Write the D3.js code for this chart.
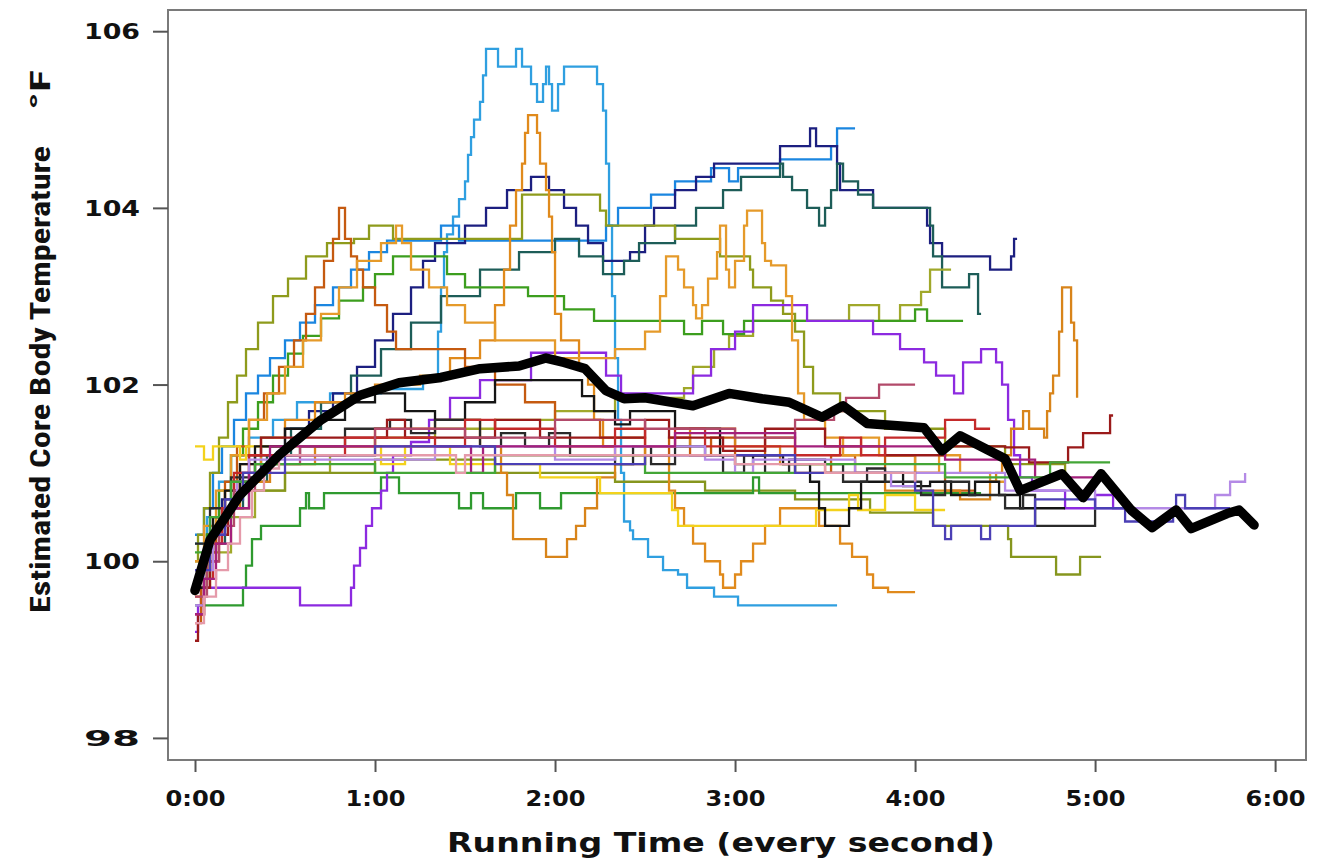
<!DOCTYPE html>
<html><head><meta charset="utf-8">
<script src="https://cdn.jsdelivr.net/npm/d3@7"></script>
<style>html,body{margin:0;padding:0;background:#fff;} svg{display:block;}</style>
</head><body>
<svg id="chart" width="1326" height="863"></svg>
<script>
// ---- axis tick values ----
const xTickSeconds = [0, 60, 120, 180, 240, 300, 360];
const yTickValues = [98, 100, 102, 104, 106];

// ---- individual runners: [seconds, °F] change points (step after) ----
const lightBlue = [[0,100.2],[4,100.5],[8,100.9],[12,101.2],[18,101.4],[26,101.6],[34,101.8],[45,101.9],[62,101.95],[76,102.1],[80,102.1],[81,102.6],[82,103.1],[83,103.5],[84,103.7],[86,103.9],[88,104.1],[90,104.3],[91,104.6],[92,104.8],[93,105.0],[95,105.2],[96,105.5],[97,105.8],[101,105.6],[107,105.8],[109,105.6],[112,105.4],[114,105.2],[116,105.4],[117,105.6],[118,105.4],[119,105.1],[121,105.4],[123,105.6],[134,105.4],[136,105.1],[137,104.5],[138,103.8],[139,103.0],[140,102.3],[141,101.6],[142,101.0],[143,100.45],[145,100.35],[146,100.25],[151,100.05],[156,99.9],[161,99.85],[164,99.7],[173,99.6],[181,99.5],[214,99.5]];
const blue = [[0,100.3],[3,100.6],[6,101.0],[9,101.3],[13,101.6],[17,101.9],[21,102.1],[25,102.3],[30,102.5],[35,102.7],[40,102.9],[46,103.1],[52,103.3],[58,103.5],[64,103.63],[82,103.8],[88,103.63],[135,103.63],[137,103.8],[141,104.0],[152,104.15],[160,104.3],[172,104.45],[178,104.3],[181,104.45],[195,104.55],[212,104.7],[214,104.9],[220,104.9]];
const navy = [[0,99.9],[4,100.3],[9,100.7],[15,101.0],[22,101.3],[30,101.5],[38,101.7],[46,101.9],[54,102.2],[60,102.5],[66,102.8],[72,103.1],[76,103.4],[80,103.6],[90,103.8],[97,104.0],[104,104.2],[112,104.35],[118,104.2],[123,104.0],[127,103.8],[131,103.6],[136,103.4],[145,103.5],[150,103.8],[153,104.0],[160,104.2],[167,104.35],[173,104.5],[195,104.7],[205,104.9],[207,104.7],[214,104.5],[215,104.2],[226,104.0],[244,103.8],[245,103.6],[249,103.45],[265,103.3],[272,103.45],[273,103.65],[274,103.65]];
const teal = [[0,99.8],[5,100.2],[10,100.6],[16,100.9],[24,101.2],[32,101.5],[42,101.8],[52,102.1],[62,102.4],[72,102.7],[82,103.0],[95,103.3],[108,103.5],[120,103.65],[128,103.45],[136,103.25],[143,103.4],[148,103.6],[160,103.8],[167,104.0],[176,104.2],[182,104.35],[195,104.5],[196,104.35],[199,104.2],[204,104.0],[208,103.8],[210,104.0],[212,104.2],[214,104.5],[216,104.3],[221,104.15],[226,104.0],[245,103.8],[246,103.45],[249,103.1],[258,103.25],[261,102.8],[262,102.8]];
const olive = [[0,100.0],[1,100.3],[3,100.6],[5,101.0],[8,101.4],[11,101.8],[14,102.1],[17,102.4],[21,102.7],[26,103.0],[31,103.2],[37,103.45],[44,103.6],[53,103.65],[58,103.8],[66,103.65],[109,104.15],[135,103.97],[137,103.8],[160,103.65],[175,103.45],[185,103.3],[186,103.1],[192,102.95],[196,102.8],[200,102.6],[203,102.2],[206,101.9],[215,101.7],[230,101.5],[250,101.3],[270,101.1],[290,101.0]];
const olive2 = [[0,99.7],[5,100.1],[12,100.5],[20,100.8],[30,101.0],[45,101.2],[60,101.4],[80,101.5],[100,101.6],[120,101.7],[140,101.85],[163,101.96],[166,102.2],[173,102.4],[178,102.55],[186,102.72],[218,102.9],[228,102.72],[235,102.9],[242,103.05],[245,103.3],[252,103.3]];
const olive3 = [[0,99.9],[4,100.3],[10,100.6],[18,100.8],[30,101.0],[60,101.15],[100,101.0],[140,100.9],[170,100.8],[200,100.7],[225,100.55],[246,100.4],[271,100.25],[272,100.05],[286,100.05],[287,99.85],[294,99.85],[295,100.05],[302,100.05]];
const green = [[0,99.8],[4,100.3],[8,100.8],[12,101.2],[16,101.5],[21,101.8],[26,102.1],[31,102.35],[36,102.55],[42,102.75],[48,102.95],[56,103.1],[60,103.25],[66,103.45],[84,103.25],[90,103.1],[111,103.0],[123,102.85],[133,102.72],[163,102.57],[169,102.72],[176,102.57],[183,102.72],[237,102.72],[240,102.85],[244,102.72],[256,102.72]];
const green2 = [[0,99.5],[15,99.5],[16,99.7],[17,99.95],[19,100.25],[22,100.4],[34,100.4],[35,100.6],[37,100.77],[38,100.6],[42,100.6],[43,100.77],[61,100.77],[62,100.95],[67,100.95],[68,100.77],[87,100.77],[88,100.6],[91,100.6],[92,100.77],[95,100.77],[96,100.6],[106,100.6],[107,100.77],[114,100.77],[115,100.6],[121,100.6],[122,100.77],[185,100.77],[186,100.95],[188,100.77],[262,100.77]];
const purple = [[0,99.2],[1,99.5],[2,99.7],[35,99.5],[52,99.7],[53,99.95],[55,100.15],[57,100.4],[59,100.6],[62,100.8],[64,101.0],[66,101.2],[72,101.35],[78,101.6],[85,101.85],[95,102.05],[112,102.36],[135,102.36],[137,102.1],[142,101.9],[160,101.9],[166,102.1],[172,102.4],[180,102.6],[186,102.9],[204,102.72],[226,102.57],[235,102.4],[243,102.25],[247,102.1],[253,101.9],[256,102.25],[262,102.4],[267,102.25],[269,102.0],[271,101.6],[273,101.2],[275,100.95],[279,100.8],[290,100.6],[300,100.75],[306,100.6],[312,100.6]];
const orange = [[0,99.6],[3,100.0],[6,100.4],[10,100.8],[15,101.1],[22,101.4],[30,101.6],[40,101.8],[50,101.9],[60,102.0],[75,102.1],[85,102.3],[95,102.5],[100,102.9],[103,103.3],[105,103.8],[107,104.2],[109,104.5],[110,104.85],[111,105.05],[114,104.85],[115,104.5],[117,104.2],[118,103.9],[119,103.5],[120,102.8],[122,102.5],[127,102.5],[128,102.2],[131,102.0],[133,101.6],[136,101.3],[140,101.2],[155,101.2],[158,100.8],[160,100.6],[163,100.4],[166,100.2],[170,100.0],[175,99.85],[176,99.7],[180,99.85],[182,100.0],[186,100.2],[190,100.4],[195,100.6],[208,100.4],[215,100.2],[219,100.05],[224,99.85],[226,99.7],[231,99.65],[240,99.65]];
const rust = [[0,99.3],[2,99.7],[4,100.1],[7,100.5],[10,100.9],[14,101.3],[18,101.6],[23,101.9],[28,102.2],[33,102.5],[37,102.8],[40,103.1],[43,103.4],[46,103.65],[48,104.0],[50,103.65],[52,103.45],[54,103.3],[56,103.1],[60,102.9],[64,102.6],[67,102.4],[80,102.4],[90,102.2],[100,102.0],[110,101.8],[120,101.6],[135,101.4],[150,101.2],[158,101.4],[165,101.2],[172,101.4],[180,101.2],[190,101.4],[200,101.0],[212,101.2],[220,101.0],[230,101.2],[240,101.0],[250,100.8],[260,100.8]];
const orange2 = [[0,100.0],[3,100.4],[7,100.8],[12,101.2],[18,101.6],[24,101.9],[30,102.2],[36,102.5],[42,102.8],[48,103.1],[54,103.4],[62,103.6],[67,103.8],[69,103.6],[72,103.3],[78,103.1],[84,102.9],[90,102.7],[100,102.5],[120,102.3],[140,102.4],[150,102.6],[155,103.0],[157,103.45],[161,103.3],[163,103.1],[166,102.9],[167,102.75],[169,102.9],[171,103.2],[174,103.5],[175,103.8],[177,103.3],[178,103.1],[180,103.4],[183,103.8],[184,103.97],[188,103.97],[189,103.6],[190,103.4],[192,103.35],[196,103.35],[197,103.0],[199,102.5],[201,101.9],[203,101.6],[210,101.4],[216,101.2],[222,101.4],[228,101.2],[240,101.0],[248,101.2],[255,101.0],[265,100.9],[270,100.9]];
const orange3 = [[0,99.8],[4,100.2],[9,100.6],[15,100.9],[25,101.1],[40,101.3],[60,101.5],[80,101.6],[95,101.3],[102,101.0],[104,100.75],[106,100.25],[117,100.05],[124,100.25],[127,100.4],[130,100.6],[134,100.95],[140,101.1],[150,101.3],[165,101.5],[180,101.3],[195,101.1],[210,101.0],[230,100.8],[255,100.7],[265,100.9],[267,101.0],[269,101.2],[272,101.5],[276,101.7],[278,101.5],[283,101.4],[284,101.7],[285,101.9],[286,102.1],[288,102.6],[289,103.1],[291,103.1],[292,102.7],[293,102.5],[294,101.85]];
const yellow = [[0,101.3],[3,101.15],[6,101.3],[12,101.3],[15,101.15],[17,101.3],[60,101.3],[62,101.1],[70,101.3],[85,101.1],[114,101.1],[115,100.95],[134,100.95],[135,100.77],[158,100.77],[159,100.58],[161,100.4],[205,100.4],[207,100.58],[218,100.75],[221,100.58],[230,100.75],[240,100.58],[250,100.58]];
const blackA = [[0,99.7],[3,100.1],[6,100.5],[10,100.8],[15,101.1],[20,101.3],[30,101.5],[40,101.6],[50,101.8],[60,101.9],[70,101.7],[80,101.6],[90,101.8],[100,102.05],[128,102.05],[129,101.87],[133,101.7],[140,101.55],[145,101.7],[160,101.5],[175,101.2],[180,101.1],[186,101.2],[196,101.1],[205,100.9],[208,100.6],[210,100.4],[215,100.4],[218,100.6],[222,100.9],[230,101.0],[236,100.85],[245,100.9],[252,100.75],[260,100.9],[268,100.75],[275,100.6],[290,100.6]];
const blackB = [[0,100.2],[5,100.6],[12,100.95],[20,101.2],[35,101.3],[50,101.5],[65,101.6],[72,101.45],[80,101.6],[95,101.3],[102,101.45],[110,101.3],[118,101.45],[125,101.2],[140,101.1],[146,101.3],[152,101.1],[160,101.3],[170,101.2],[176,101.0],[183,101.2],[190,101.0],[198,101.15],[210,101.1],[216,100.9],[224,101.05],[230,100.9],[242,100.75],[250,100.9],[258,100.75],[270,100.6],[276,100.75],[280,100.4],[295,100.4],[300,100.6]];
const maroon = [[0,99.1],[1,99.4],[3,99.7],[5,100.0],[8,100.3],[11,100.6],[14,100.9],[18,101.2],[22,101.4],[60,101.4],[64,101.6],[70,101.4],[100,101.6],[112,101.6],[115,101.4],[140,101.4],[150,101.6],[158,101.4],[170,101.4],[176,101.25],[190,101.5],[210,101.3],[230,101.2],[250,101.3],[270,101.29],[278,101.12],[290,101.12],[291,101.29],[296,101.45],[305,101.65],[306,101.65]];
const red = [[0,99.4],[3,99.8],[6,100.2],[9,100.6],[13,101.0],[18,101.2],[30,101.2],[50,101.4],[80,101.3],[90,101.6],[100,101.5],[120,101.3],[140,101.5],[150,101.3],[160,101.5],[170,101.3],[200,101.2],[215,101.4],[222,101.2],[230,101.4],[250,101.6],[260,101.5],[265,101.5]];
const rose = [[0,99.6],[4,100.0],[8,100.4],[13,100.8],[20,101.1],[35,101.3],[60,101.5],[90,101.4],[120,101.6],[150,101.5],[180,101.4],[200,101.6],[213,101.7],[217,101.85],[228,102.0],[240,102.0]];
const lavender = [[0,99.5],[3,99.9],[6,100.3],[10,100.6],[14,100.9],[18,101.15],[40,101.15],[80,101.3],[120,101.15],[140,101.3],[160,101.3],[170,101.15],[180,101.0],[186,101.15],[200,101.15],[220,101.0],[232,100.85],[240,101.0],[270,100.8],[300,100.6],[330,100.6],[340,100.75],[345,100.9],[350,101.0]];
const magenta = [[0,99.4],[3,99.8],[7,100.2],[12,100.6],[18,101.0],[25,101.3],[90,101.3],[92,101.0],[96,101.3],[160,101.45],[200,101.3],[250,101.15],[280,100.95],[300,100.9]];
const green3 = [[0,100.1],[5,100.5],[12,100.9],[20,101.1],[60,101.0],[100,101.2],[150,101.0],[200,101.1],[250,100.95],[285,101.12],[305,101.12]];
const slate = [[0,99.9],[5,100.3],[10,100.7],[16,101.0],[30,101.2],[60,101.3],[100,101.1],[150,101.2],[200,101.0],[240,100.8],[246,100.4],[250,100.25],[252,100.4],[262,100.25],[265,100.4],[280,100.7],[300,100.6],[310,100.45],[326,100.6],[327,100.75],[330,100.6],[345,100.6]];
const pink = [[0,99.3],[3,99.6],[7,99.9],[11,100.2],[15,100.5],[19,100.8],[23,101.05],[28,101.2],[80,101.2],[87,101.0],[90,101.2],[130,101.2],[180,101.1],[210,101.0],[240,100.9]];

const runnerSeries = [lightBlue, blue, navy, teal, olive, olive2, olive3, green, green2, purple, orange, rust, orange2, orange3, yellow, blackA, blackB, maroon, red, rose, lavender, magenta, green3, slate, pink];
const runnerColors = ["#2f9fe0","#1b86e0","#1c1f80","#1d5d58","#8e9b1c","#a0a82a","#86961e","#3c9e1e","#2f9a2f","#8c2ae0","#e08a1c","#c55a10","#e59a2a","#d8841a","#f3d21c","#151515","#2a2a2a","#9a1a1a","#c42a2a","#b24a6a","#b48ae6","#a4207c","#43a637","#4b3fb5","#e59aaa"];

// ---- group mean (thick black line) ----
const meanLine = [[0,99.67],[5,100.24],[15,100.75],[28,101.2],[42,101.6],[55,101.88],[68,102.02],[82,102.08],[95,102.18],[108,102.21],[117,102.3],[123,102.25],[130,102.18],[137,101.93],[143,101.84],[150,101.85],[166,101.76],[178,101.9],[189,101.84],[198,101.8],[209,101.63],[216,101.76],[224,101.56],[243,101.51],[249,101.25],[255,101.42],[270,101.16],[275,100.8],[289,100.99],[296,100.72],[302,100.99],[312,100.58],[319,100.38],[327,100.58],[332,100.37],[344,100.54],[348,100.58],[353,100.41]];

const svg = d3.select("#chart");
const x = d3.scaleLinear().domain([-9, 370.3]).range([168, 1306]);
const y = d3.scaleLinear().domain([97.75, 106.24]).range([760, 10]);

// frame
svg.append("rect").attr("x",168).attr("y",10).attr("width",1138).attr("height",750)
  .attr("fill","none").attr("stroke","#7a7a7a").attr("stroke-width",2);

// runner lines
const stepLine = d3.line().x(d=>x(d[0])).y(d=>y(d[1])).curve(d3.curveStepAfter);
const gLines = svg.append("g");
runnerSeries.forEach((s,i)=>{
  gLines.append("path").attr("d", stepLine(s)).attr("fill","none")
    .attr("stroke", runnerColors[i]).attr("stroke-width", 2.3).attr("stroke-linejoin","miter");
});

// mean line
const meanPath = d3.line().x(d=>x(d[0])).y(d=>y(d[1])).curve(d3.curveLinear);
svg.append("path").attr("d", meanPath(meanLine)).attr("fill","none")
  .attr("stroke","#000").attr("stroke-width",9.5).attr("stroke-linejoin","round").attr("stroke-linecap","round");

// axes
const fmt = s => Math.floor(s/60) + ":" + String(s%60).padStart(2,"0");
const xAxis = svg.append("g").attr("transform","translate(0,760)")
  .call(d3.axisBottom(x).tickValues(xTickSeconds).tickFormat(fmt).tickSize(12).tickSizeOuter(0));
xAxis.select(".domain").remove();
xAxis.selectAll(".tick line").attr("stroke","#555").attr("stroke-width",2);
xAxis.selectAll(".tick text").attr("y",46).attr("dy",0)
  .attr("font-family","'DejaVu Sans', Verdana, sans-serif").attr("font-weight","bold")
  .attr("font-size",21).attr("fill","#111")
  .attr("textLength",60).attr("lengthAdjust","spacingAndGlyphs");

const yAxis = svg.append("g").attr("transform","translate(168,0)")
  .call(d3.axisLeft(y).tickValues(yTickValues).tickFormat(d3.format("d")).tickSize(15).tickSizeOuter(0));
yAxis.select(".domain").remove();
yAxis.selectAll(".tick line").attr("stroke","#555").attr("stroke-width",2);
yAxis.selectAll(".tick text").attr("x",-28).attr("dy","0.36em")
  .attr("font-family","'DejaVu Sans', Verdana, sans-serif").attr("font-weight","bold")
  .attr("font-size",21).attr("fill","#111")
  .attr("textLength",56).attr("lengthAdjust","spacingAndGlyphs");

// axis titles
svg.append("text").attr("x",721).attr("y",852).attr("text-anchor","middle")
  .attr("font-family","'DejaVu Sans', Verdana, sans-serif").attr("font-weight","bold")
  .attr("font-size",26).attr("fill","#111")
  .attr("textLength",548).attr("lengthAdjust","spacingAndGlyphs")
  .text("Running Time (every second)");

const yTitle = svg.append("g").attr("transform","translate(50,0) rotate(-90)");
yTitle.append("text").attr("x",-613).attr("y",0)
  .attr("font-family","'Liberation Sans Narrow','Roboto Condensed','Liberation Sans',sans-serif")
  .attr("font-weight","bold").attr("font-size",27).attr("fill","#111")
  .attr("textLength",467).attr("lengthAdjust","spacingAndGlyphs")
  .text("Estimated Core Body Temperature");
yTitle.append("text").attr("x",-110).attr("y",0)
  .attr("font-family","'Liberation Sans Narrow','Roboto Condensed','Liberation Sans',sans-serif")
  .attr("font-weight","bold").attr("font-size",27).attr("fill","#111")
  .attr("textLength",40).attr("lengthAdjust","spacingAndGlyphs")
  .text("°F");
</script>
</body></html>
